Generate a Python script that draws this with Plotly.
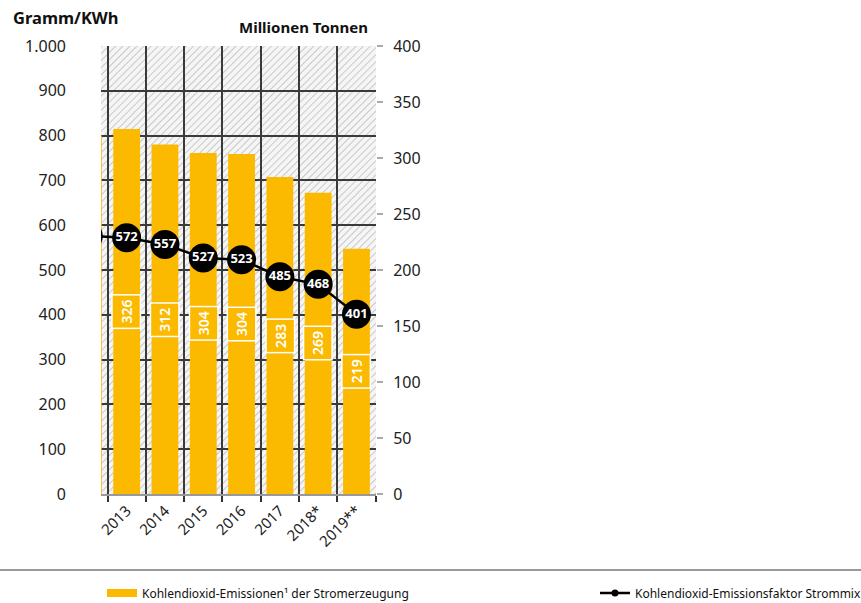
import base64
import plotly.graph_objects as go

# ---- data ----
years = ["2012", "2013", "2014", "2015", "2016", "2017", "2018*", "2019**"]
emissions_mt = [320, 326, 312, 304.4, 303.6, 283, 269, 219]       # Millionen Tonnen (bars, right axis)
emission_factor = [576, 572, 557, 527, 523, 485, 468, 401]         # Gramm/KWh (line, left axis)
left_ticks = [0, 100, 200, 300, 400, 500, 600, 700, 800, 900, 1000]
right_ticks = [0, 50, 100, 150, 200, 250, 300, 350, 400]
bar_name = "Kohlendioxid-Emissionen¹ der Stromerzeugung"
line_name = "Kohlendioxid-Emissionsfaktor Strommix"

YELLOW = "#fbb900"
FONT = "Noto Sans"
W, H = 861, 603
L, R, T, B = 101, 376, 46, 494  # plot area in pixels


def px(x):
    return (x - L) / (R - L)


def py(y):
    return (B - y) / (B - T)


fig = go.Figure()

# bars (Millionen Tonnen)
fig.add_trace(go.Bar(
    x=years, y=emissions_mt, marker=dict(color=YELLOW, line=dict(width=0)),
    width=0.7, showlegend=False, yaxis="y", hoverinfo="skip"))

# line (Gramm/KWh)
fig.add_trace(go.Scatter(
    x=years, y=emission_factor, mode="lines+markers+text", yaxis="y2",
    text=[str(v) for v in emission_factor], textposition="middle center",
    textfont=dict(color="white", size=13, family=FONT, weight="bold"),
    line=dict(color="black", width=2.5),
    marker=dict(color="black", size=29), showlegend=False, cliponaxis=True))

# legend stand-ins
fig.add_trace(go.Scatter(x=[None], y=[None], mode="lines", name=bar_name,
                         line=dict(color=YELLOW, width=8), legend="legend"))
fig.add_trace(go.Scatter(x=[None], y=[None], mode="lines+markers", name=line_name,
                         line=dict(color="black", width=2.5),
                         marker=dict(color="black", size=7), legend="legend2"))

# bar value labels (category index positions)
for i, v in enumerate(emissions_mt):
    fig.add_annotation(x=i, y=v / 2, xref="x", yref="y", text=str(round(v)),
                       textangle=-90, showarrow=False, bgcolor=YELLOW,
                       bordercolor="white", borderwidth=1.5, borderpad=4,
                       font=dict(color="white", size=14, family=FONT, weight=600))

# hatch background
svg = ('<svg xmlns="http://www.w3.org/2000/svg" width="275" height="448">'
       '<defs><pattern id="h" width="5" height="5" patternUnits="userSpaceOnUse" '
       'patternTransform="rotate(45)"><rect width="5" height="5" fill="#f5f5f5"/>'
       '<line x1="0" y1="0" x2="0" y2="5" stroke="#c4c4c4" stroke-width="1.8"/></pattern></defs>'
       '<rect width="100%" height="100%" fill="url(#h)"/></svg>')
src = "data:image/svg+xml;base64," + base64.b64encode(svg.encode()).decode()
fig.add_layout_image(source=src, xref="paper", yref="paper", x=0, y=1,
                     sizex=1, sizey=1, sizing="stretch", xanchor="left",
                     yanchor="top", layer="below")

# titles
fig.add_annotation(text="<b>Gramm/KWh</b>", xref="paper", yref="paper",
                   x=px(11), y=py(17), xanchor="left", yanchor="middle",
                   showarrow=False, font=dict(size=16.5, color="#111", family=FONT))
fig.add_annotation(text="<b>Millionen Tonnen</b>", xref="paper", yref="paper",
                   x=px(370), y=py(27), xanchor="right", yanchor="middle",
                   showarrow=False, font=dict(size=15, color="#111", family=FONT))

# separator line
fig.add_shape(type="line", xref="paper", yref="paper", x0=px(0), x1=px(W),
              y0=py(570), y1=py(570), line=dict(color="#999", width=2))

fig.update_layout(
    width=W, height=H, autosize=False,
    margin=dict(l=L, r=W - R, t=T, b=H - B, pad=0, autoexpand=False),
    paper_bgcolor="white", plot_bgcolor="rgba(0,0,0,0)",
    separators=",.",
    font=dict(family=FONT, color="#222"),
    xaxis=dict(type="category", categoryorder="array", categoryarray=years,
               range=[0.33, 7.51], tickson="boundaries", showgrid=True,
               gridcolor="#3a3a3a", gridwidth=1.5, ticks="outside", ticklen=6,
               tickcolor="#333", tickwidth=1.5, showline=True, linecolor="#999",
               linewidth=2, tickangle=-45, automargin=False,
               tickfont=dict(size=15, color="#222")),
    yaxis=dict(side="right", range=[0, 400], tickvals=right_ticks,
               showgrid=False, zeroline=False, ticks="outside", ticklen=6,
               tickcolor="#aaa", tickwidth=1.5, ticklabelstandoff=7,
               tickfont=dict(size=16, color="#222"),
               showline=False, automargin=False),
    yaxis2=dict(overlaying="y", side="left", range=[0, 1000], tickvals=left_ticks,
                separatethousands=True, tickformat=",d", showgrid=True,
                gridcolor="#3a3a3a", gridwidth=1.5, zeroline=False, ticks="",
                ticklabelstandoff=34, automargin=False,
                tickfont=dict(size=16, color="#222")),
    legend=dict(orientation="h", x=px(102), y=py(593), xanchor="left",
                yanchor="middle", bgcolor="rgba(0,0,0,0)",
                font=dict(size=12, color="#111", family=FONT)),
    legend2=dict(orientation="h", x=px(595), y=py(593), xanchor="left",
                 yanchor="middle", bgcolor="rgba(0,0,0,0)",
                 font=dict(size=12, color="#111", family=FONT)),
    bargap=0.3,
)

fig.write_html("out.html")
